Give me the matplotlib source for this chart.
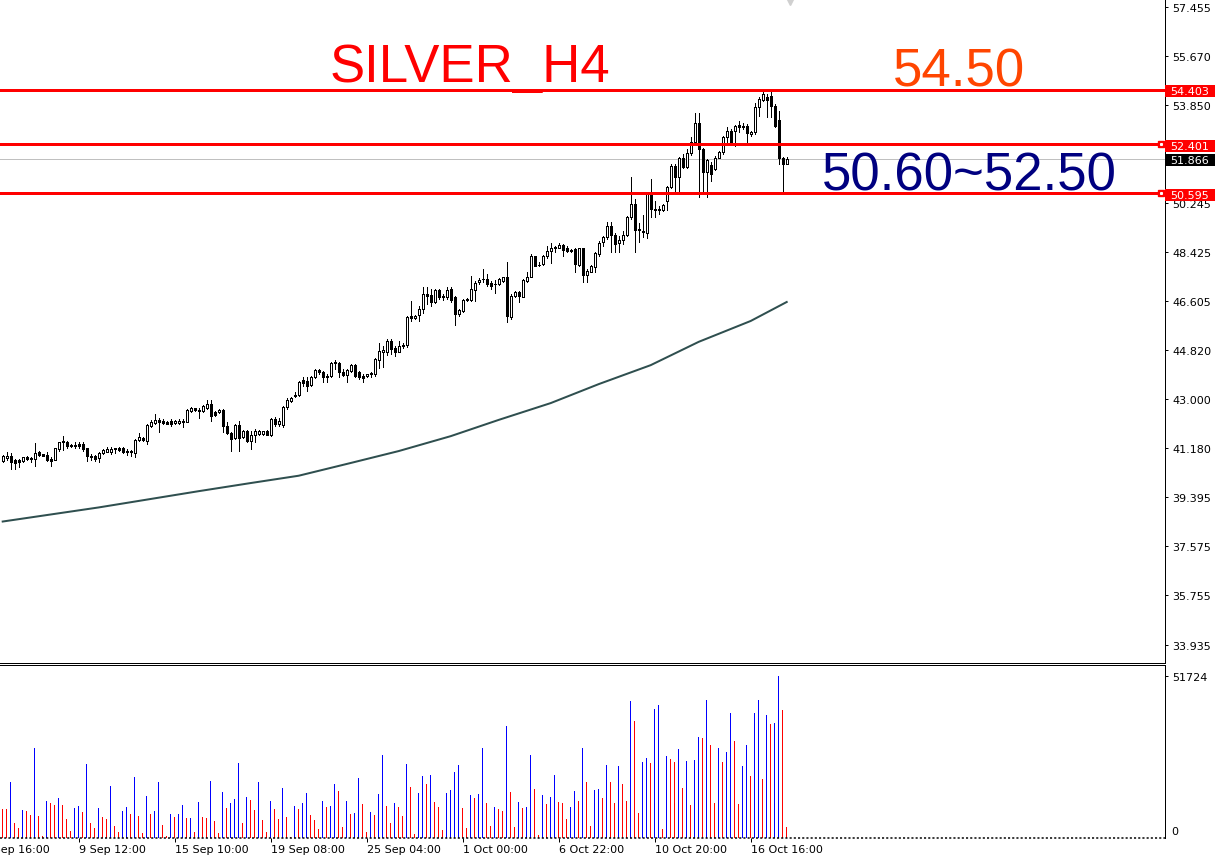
import matplotlib
matplotlib.use("Agg")
import matplotlib.pyplot as plt
import matplotlib.transforms as mtransforms
from matplotlib.patches import Rectangle
import numpy as np

plt.rcParams["font.family"] = ["Liberation Sans", "DejaVu Sans"]
SMALL = ["DejaVu Sans"]   # axis labels, closest to the terminal's Tahoma

# ============================================================
# SILVER H4 candles (index 0 = left edge)
opens = [
    40.70, 40.84, 40.89, 40.75, 40.74, 40.70, 40.85, 40.80, 40.77, 41.03,
    40.96, 40.95, 40.80, 40.76, 41.16, 41.40, 41.43, 41.28, 41.27, 41.35,
    41.34, 41.19, 40.90, 40.89, 40.82, 41.00, 41.05, 41.06, 41.16, 41.19,
    41.19, 41.07, 41.07, 41.00, 41.49, 41.57, 41.46, 42.02, 42.12, 42.21,
    42.19, 42.16, 42.20, 42.10, 42.13, 42.20, 42.16, 42.57, 42.66, 42.59,
    42.55, 42.66, 42.82, 42.53, 42.51, 42.60, 42.00, 41.74, 41.55, 42.04,
    41.59, 41.83, 41.45, 41.67, 41.71, 41.70, 41.82, 41.67, 42.26, 42.08,
    42.06, 42.70, 42.94, 43.10, 43.15, 43.70, 43.68, 43.52, 43.80, 44.07,
    44.01, 43.84, 43.84, 44.33, 44.33, 43.99, 43.90, 44.05, 44.26, 43.99,
    43.86, 43.84, 43.94, 43.92, 44.45, 44.72, 44.72, 45.13, 44.87, 44.75,
    44.95, 45.00, 46.05, 46.00, 46.10, 46.32, 46.87, 46.84, 46.59, 47.02,
    46.78, 46.75, 47.06, 46.75, 46.13, 46.26, 46.67, 46.66, 47.03, 47.30,
    47.42, 47.42, 47.28, 47.23, 47.24, 47.36, 47.49, 46.01, 46.81, 46.96,
    46.78, 47.36, 47.51, 48.26, 47.94, 47.98, 48.29, 48.47, 48.59, 48.59,
    48.69, 48.59, 48.47, 48.53, 47.95, 48.56, 47.58, 47.70, 47.86, 48.35,
    48.78, 48.96, 49.39, 49.07, 48.74, 48.86, 49.05, 49.70, 50.19, 49.27,
    49.21, 49.12, 50.56, 49.98, 49.99, 49.97, 50.32, 50.81, 51.58, 51.21,
    51.88, 51.55, 52.07, 52.50, 53.18, 52.22, 51.36, 51.64, 51.48, 51.91,
    52.10, 52.65, 52.90, 52.90, 53.12, 53.02, 53.08, 52.78, 52.84, 53.76,
    54.03, 54.13, 54.17, 53.82, 53.29, 51.89, 51.69,
]
highs = [
    40.93, 41.03, 41.00, 40.79, 40.79, 40.87, 40.91, 40.85, 41.38, 41.09,
    40.99, 41.03, 40.85, 41.21, 41.43, 41.62, 41.46, 41.34, 41.40, 41.43,
    41.40, 41.21, 40.96, 40.93, 41.06, 41.16, 41.22, 41.22, 41.21, 41.24,
    41.22, 41.16, 41.12, 41.52, 41.75, 41.60, 42.08, 42.23, 42.45, 42.31,
    42.26, 42.19, 42.26, 42.21, 42.26, 42.26, 42.63, 42.69, 42.68, 42.68,
    42.78, 42.97, 42.97, 42.57, 42.63, 42.63, 42.14, 41.77, 42.07, 42.20,
    41.86, 41.87, 41.83, 41.90, 41.87, 41.83, 41.85, 42.29, 42.33, 42.30,
    42.73, 43.03, 43.06, 43.25, 43.68, 43.80, 43.80, 43.84, 44.11, 44.11,
    44.05, 43.92, 44.38, 44.43, 44.35, 44.11, 44.11, 44.29, 44.29, 44.05,
    43.92, 43.94, 43.99, 44.50, 45.07, 44.97, 45.22, 45.22, 44.94, 45.15,
    45.08, 46.05, 46.63, 46.10, 46.44, 47.12, 47.15, 47.06, 47.06, 47.06,
    46.87, 47.12, 47.12, 46.81, 46.34, 46.69, 46.71, 47.55, 47.36, 47.45,
    47.79, 47.61, 47.36, 47.40, 47.45, 47.52, 48.04, 46.87, 47.00, 47.00,
    47.42, 47.67, 48.35, 48.29, 48.04, 48.31, 48.66, 48.75, 48.66, 48.75,
    48.72, 48.66, 48.53, 48.56, 48.59, 48.59, 47.79, 47.94, 48.43, 48.84,
    49.02, 49.52, 49.52, 49.12, 49.02, 49.21, 49.74, 51.18, 50.38, 49.49,
    49.79, 50.56, 51.11, 50.32, 50.13, 50.19, 50.87, 51.67, 51.67, 51.94,
    52.04, 52.22, 52.65, 53.57, 53.57, 52.28, 51.85, 51.73, 51.98, 52.16,
    52.71, 53.05, 52.96, 53.12, 53.27, 53.17, 53.14, 52.90, 53.94, 54.15,
    54.35, 54.25, 54.36, 53.88, 53.64, 51.94, 51.94,
]
lows = [
    40.69, 40.76, 40.42, 40.42, 40.48, 40.66, 40.75, 40.66, 40.54, 40.91,
    40.89, 40.70, 40.52, 40.75, 41.09, 41.13, 41.18, 41.22, 41.18, 41.18,
    41.09, 40.73, 40.76, 40.73, 40.69, 40.96, 41.03, 40.97, 41.01, 41.08,
    41.01, 40.93, 40.91, 40.87, 41.45, 41.45, 41.34, 41.96, 42.07, 41.80,
    42.08, 42.07, 42.02, 42.08, 42.07, 41.98, 42.14, 42.53, 42.57, 42.31,
    42.51, 42.63, 42.20, 42.39, 42.49, 41.77, 41.71, 41.10, 41.53, 41.10,
    41.55, 41.43, 41.16, 41.43, 41.67, 41.67, 41.66, 41.62, 42.02, 42.02,
    41.96, 42.63, 42.90, 43.06, 43.12, 43.49, 43.31, 43.49, 43.76, 43.92,
    43.62, 43.64, 43.80, 44.11, 43.80, 43.86, 43.64, 44.01, 43.80, 43.74,
    43.64, 43.80, 43.83, 43.84, 44.14, 44.17, 44.62, 44.66, 44.60, 44.72,
    44.88, 44.93, 45.89, 45.95, 45.89, 46.19, 46.50, 46.44, 46.54, 46.69,
    46.65, 46.69, 46.59, 45.73, 46.05, 46.22, 46.63, 46.63, 46.63, 47.24,
    47.30, 47.18, 47.06, 46.93, 47.20, 47.33, 45.83, 45.95, 46.78, 46.59,
    46.75, 47.30, 47.49, 47.89, 47.89, 47.94, 48.22, 48.02, 48.41, 48.56,
    48.29, 48.43, 48.41, 47.70, 47.92, 47.30, 47.30, 47.67, 47.67, 48.29,
    48.65, 48.90, 48.43, 48.43, 48.43, 48.72, 49.02, 49.64, 48.41, 48.78,
    48.96, 48.93, 49.70, 49.70, 49.82, 49.95, 49.98, 50.78, 50.62, 50.62,
    51.52, 51.52, 51.99, 52.43, 50.44, 50.62, 50.44, 51.05, 51.45, 51.89,
    52.04, 52.47, 52.41, 52.34, 52.84, 52.96, 52.47, 52.71, 52.77, 53.45,
    54.01, 53.41, 53.41, 53.02, 51.67, 50.60, 51.67,
]
closes = [
    40.91, 40.89, 40.69, 40.64, 40.66, 40.85, 40.77, 40.81, 41.00, 40.93,
    40.91, 40.74, 40.73, 41.18, 41.40, 41.45, 41.28, 41.27, 41.29, 41.25,
    41.16, 40.89, 40.86, 40.79, 41.00, 41.12, 41.17, 41.16, 41.17, 41.12,
    41.06, 41.03, 41.03, 41.50, 41.59, 41.49, 42.04, 42.14, 42.24, 42.14,
    42.12, 42.09, 42.08, 42.19, 42.20, 42.14, 42.59, 42.66, 42.59, 42.57,
    42.76, 42.82, 42.39, 42.41, 42.60, 42.02, 41.74, 41.53, 42.04, 41.56,
    41.83, 41.45, 41.67, 41.81, 41.83, 41.81, 41.69, 42.26, 42.08, 42.18,
    42.70, 42.97, 43.03, 43.16, 43.64, 43.58, 43.49, 43.80, 44.08, 43.99,
    43.80, 43.80, 44.33, 44.34, 43.99, 43.90, 44.08, 44.26, 43.84, 43.80,
    43.78, 43.91, 43.95, 44.48, 44.78, 44.81, 45.13, 44.85, 44.72, 44.97,
    45.00, 46.01, 46.00, 46.05, 46.32, 46.87, 46.81, 46.59, 47.03, 46.77,
    46.77, 47.02, 46.66, 46.13, 46.29, 46.65, 46.69, 47.06, 47.28, 47.40,
    47.43, 47.24, 47.18, 47.25, 47.42, 47.49, 46.07, 46.81, 46.96, 46.81,
    47.39, 47.52, 48.26, 47.92, 47.95, 48.29, 48.47, 48.59, 48.60, 48.68,
    48.51, 48.47, 48.48, 47.98, 48.56, 47.58, 47.73, 47.89, 48.38, 48.75,
    48.99, 49.39, 49.05, 48.72, 48.86, 49.05, 49.70, 50.19, 49.24, 49.22,
    49.15, 50.56, 50.01, 49.99, 49.98, 50.15, 50.81, 51.58, 51.21, 51.88,
    51.55, 52.07, 52.50, 53.18, 52.22, 51.36, 51.82, 51.30, 51.91, 52.10,
    52.65, 52.90, 52.50, 53.08, 53.02, 53.08, 52.80, 52.87, 53.78, 54.07,
    54.25, 54.03, 53.82, 53.08, 51.89, 51.67, 51.866,
]

# tick volume per candle
volumes = [
    9259, 9150, 17880, 4789, 3193, 8940, 8621, 7344, 28736, 7024,
    639, 11814, 11175, 10537, 12772, 10537, 6067, 2235, 9579, 10217,
    8302, 23627, 4789, 3193, 9579, 6705, 6067, 16603, 3831, 1916,
    8621, 9898, 7663, 19477, 7024, 1596, 13410, 7663, 8621, 17880,
    4151, 639, 7663, 6705, 7663, 10537, 6386, 6500, 1916, 11494,
    6705, 6386, 18200, 5428, 1596, 14687, 9579, 11175, 12452, 23947,
    4789, 13091, 12133, 8940, 17880, 5747, 1916, 11814, 9259, 6067,
    15964, 6705, 319, 10217, 9259, 11175, 14368, 7344, 5747, 2874,
    11814, 9898, 10217, 17242, 15007, 3512, 11814, 7663, 7982, 19157,
    10856, 1916, 8302, 7344, 14049, 26501, 10217, 4789, 11175, 9898,
    7024, 23627, 16284, 1277, 14368, 19796, 17242, 20115, 11494, 9898,
    2554, 14368, 15326, 21073, 23308, 9579, 3193, 13729, 12772, 14049,
    28736, 11175, 3831, 9898, 9259, 8621, 35760, 14687, 3512, 11494,
    9579, 9898, 26501, 15645, 958, 13729, 10856, 13091, 20115, 11494,
    11175, 6067, 9898, 15007, 11814, 28736, 17880, 3831, 15326, 15645,
    12772, 23308, 17880, 11175, 22989, 17242, 11814, 43743, 37357, 7982,
    24266, 25543, 23947, 41188, 42466, 2874, 26182, 25224, 24266, 28417,
    15964, 24585, 10537, 24905, 32248, 32000, 44062, 29694, 11175, 28736,
    24266, 27459, 39911, 30971, 10856, 22989, 29694, 19796, 39911, 44062,
    18838, 39273, 36399, 36718, 51724, 40869, 3512,
]
# b = blue (volume up on previous bar), r = red
vol_colors = ("rrbrrbrrbr" "rbrrbrrrbb" "rbrrbrrbrr" "bbrbrrbrbb" "rrbrbbrbrb"
              "rrbrrbrbbb" "rbrrbrrbrr" "brrbrbbrrr" "brbbrrbrbb" "rrbrbbrrbr"
              "rbrrbbrbrr" "rbbbbrrbrb" "brrbrrbrrb" "rbbrrbrbbr" "rrbbrbrrbb"
              "rbrrbrrbrr" "bbrbbrbrrb" "rbrbbrbrrb" "rbbrrbbrbb" "rbrbbrr")

# moving average line (candle index, price)
ma_idx = [0, 24, 49, 62, 74, 87, 99, 112, 124, 137, 149, 162, 174, 187, 196]
ma_val = [38.48, 39.00, 39.60, 39.90, 40.17, 40.64, 41.08, 41.63, 42.23, 42.85,
          43.55, 44.25, 45.11, 45.88, 46.58]

levels = [54.403, 52.401, 50.595]
bid = 51.866
price_ticks = [57.455, 55.670, 53.850, 50.245, 48.425, 46.605, 44.820,
               43.000, 41.180, 39.395, 37.575, 35.755, 33.935]
time_ticks = [-5, 19, 43, 67, 91, 115, 139, 163, 187]
time_labels = ["4 Sep 16:00", "9 Sep 12:00", "15 Sep 10:00", "19 Sep 08:00",
               "25 Sep 04:00", "1 Oct 00:00", "6 Oct 22:00", "10 Oct 20:00",
               "16 Oct 16:00"]
vol_label = 51724

# ============================================================
W, H = 1221, 862
PX = 72 / 100   # one pixel in points
fig = plt.figure(figsize=(W / 100, H / 100), dpi=100)
fig.patch.set_facecolor("white")
ax1 = fig.add_axes([0, 1 - 664 / H, 1165 / W, 664 / H])
ax2 = fig.add_axes([0, 1 - 839 / H, 1165 / W, (839 - 666) / H])

x = np.arange(len(opens))
o = np.array(opens); hi = np.array(highs); lo = np.array(lows); c = np.array(closes)
up = c >= o
xlim = (-0.675, 290.575)

# --- price pane
ax1.plot(ma_idx, ma_val, color="#2F4F4F", lw=2 * PX, zorder=2)
ax1.axhline(bid, color="#C0C0C0", lw=PX, zorder=1)
ax1.vlines(x, lo, hi, color="black", lw=PX, antialiased=False, zorder=3)
ax1.bar(x, np.maximum(np.abs(c - o), 0.02), bottom=np.minimum(o, c), width=0.5,
        color=["white" if u else "black" for u in up], edgecolor="black",
        linewidth=PX, antialiased=False, zorder=4)
for lv in levels:
    ax1.axhline(lv, color="red", lw=3 * PX, zorder=5)

ax1.set_xlim(*xlim)
ax1.set_ylim(33.26, 57.76)
for s in ["left", "top"]:
    ax1.spines[s].set_visible(False)
for s in ["bottom", "right"]:
    ax1.spines[s].set_linewidth(PX)
ax1.tick_params(axis="x", bottom=False, labelbottom=False)
ax1.yaxis.tick_right()
ax1.set_yticks(price_ticks)
ax1.set_yticklabels([f"{t:.3f}" for t in price_ticks], family=SMALL)
ax1.tick_params(axis="y", direction="out", length=3 * PX, width=PX, pad=3,
                labelsize=8, colors="black")

# price tags on the right axis
tr = mtransforms.blended_transform_factory(ax1.transAxes, ax1.transData)
bw = 50 / 1165
bh = 12 / 27.1
for val, fc in [(54.403, "red"), (52.401, "red"), (bid, "black"), (50.595, "red")]:
    yc = val - 1.5 / 27.1
    ax1.add_patch(Rectangle((1.0, yc - bh / 2), bw, bh, transform=tr,
                            facecolor=fc, edgecolor="none", clip_on=False, zorder=10))
    ax1.text(1.0 + 5 / 1165, yc, f"{val:.3f}", transform=tr, color="white",
             fontsize=8, family=SMALL, va="center", ha="left", zorder=11, clip_on=False)
for lv in levels[1:]:
    ax1.plot([289.6], [lv], marker="s", ms=5, color="red", clip_on=False, zorder=10)
    ax1.plot([289.6], [lv], marker="s", ms=1.2, color="white", clip_on=False, zorder=11)

# shift marker at top
ax1.plot([196.8], [57.70], marker="v", ms=6, color="#D0D0D0", clip_on=False, zorder=1)

# annotations
ax1.text(330 / 1165, 1 - 82 / 664, "SILVER_H4", transform=ax1.transAxes,
         color="red", fontsize=38, ha="left", va="baseline")
ax1.text(893 / 1165, 1 - 87 / 664, "54.50", transform=ax1.transAxes,
         color="#FF4500", fontsize=38, ha="left", va="baseline")
ax1.text(822 / 1165, 1 - 191 / 664, "50.60~52.50", transform=ax1.transAxes,
         color="#000080", fontsize=38, ha="left", va="baseline")

# --- volume pane: one call per colour
vols = np.array(volumes)
for code, col in [("b", "#0000FF"), ("r", "#FF0000")]:
    sel = np.array([k == code for k in vol_colors])
    ax2.bar(x[sel], vols[sel], width=0.3, color=col, edgecolor=col,
            linewidth=0, antialiased=False, zorder=3)
ax2.set_xlim(*xlim)
ax2.set_ylim(0, 55236)
ax2.axhline(0, color="black", lw=1.5 * PX, ls=(0, (1.4, 1.4)), clip_on=False, zorder=4)
for s in ["left", "bottom"]:
    ax2.spines[s].set_visible(False)
for s in ["top", "right"]:
    ax2.spines[s].set_linewidth(PX)
ax2.yaxis.tick_right()
ax2.set_yticks([vol_label])
ax2.set_yticklabels([str(vol_label)], family=SMALL)
ax2.tick_params(axis="y", direction="out", length=3 * PX, width=PX, pad=3, labelsize=8)
ax2.annotate("0", xy=(1.0, 0), xycoords=("axes fraction", "data"),
             xytext=(6 * PX, 2 * PX), textcoords="offset points", fontsize=8,
             family=SMALL, va="bottom", ha="left", annotation_clip=False)

ax2.set_xticks([t for t in time_ticks if t > xlim[0]])
ax2.set_xticklabels([])
ax2.tick_params(axis="x", direction="out", length=4 * PX, width=PX)
for t, lab in zip(time_ticks, time_labels):
    ax2.annotate(lab, xy=(t, 0), xycoords=("data", "axes fraction"),
                 xytext=(0, -8), textcoords="offset points", fontsize=8,
                 family=SMALL, ha="left", va="center", annotation_clip=False)

fig.savefig("out.png", dpi=100)
